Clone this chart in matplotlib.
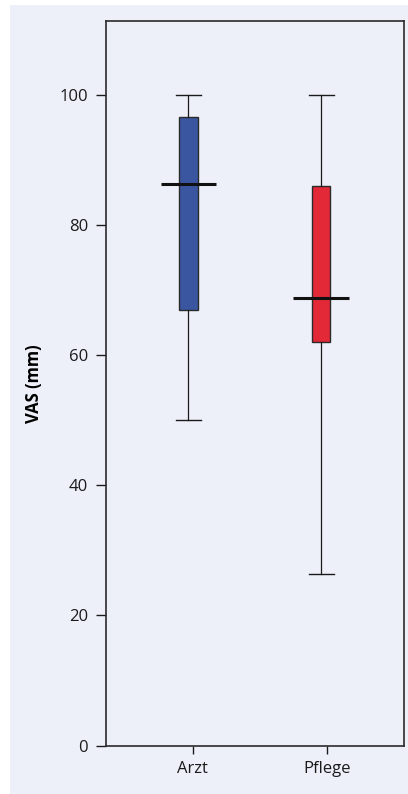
import numpy as np
import matplotlib
matplotlib.use("Agg")
import matplotlib.pyplot as plt
import matplotlib.patches as patches

plt.rcParams['font.family'] = ['Open Sans', 'DejaVu Sans']

# values (VAS in mm)
groups = ["Arzt", "Pflege"]
whisker_low = [50.0, 26.3]
q1 = [66.9, 62.0]
median = [86.2, 68.8]
q3 = [96.5, 86.0]
whisker_high = [100.0, 100.0]
colors = ["#3b56a1", "#e32838"]

bg = "#edf0f9"

fig = plt.figure(figsize=(4.08, 7.94), dpi=100)
fig.patch.set_facecolor("white")
fig.patches.append(patches.Rectangle((10 / 408, 0), 398 / 408, 789 / 794,
                                     transform=fig.transFigure, facecolor=bg,
                                     edgecolor="none", zorder=-10))

ax = fig.add_axes([0.2586, 0.0608, 0.7314, 0.9128])
ax.set_facecolor(bg)

stats = []
for i in range(len(groups)):
    stats.append(dict(label=groups[i], whislo=whisker_low[i], q1=q1[i],
                      med=median[i], q3=q3[i], whishi=whisker_high[i], fliers=[]))

bp = ax.bxp(stats, positions=[0, 0.985], widths=0.135, patch_artist=True,
            showfliers=False,
            boxprops=dict(edgecolor="#2b2b2b", linewidth=1.0),
            whiskerprops=dict(color="#1a1a1a", linewidth=0.9),
            capprops=dict(color="#1a1a1a", linewidth=1.0),
            medianprops=dict(color="#111111", linewidth=2.2))
for patch, c in zip(bp['boxes'], colors):
    patch.set_facecolor(c)
for cap in bp['caps']:
    x0, x1 = cap.get_xdata()
    m = (x0 + x1) / 2
    cap.set_xdata([m - 0.093, m + 0.093])
for med in bp['medians']:
    x0, x1 = med.get_xdata()
    m = (x0 + x1) / 2
    med.set_xdata([m - 0.207, m + 0.207])

ax.set_xlim(-0.616, 1.6)
ax.set_ylim(0, 111.3)
ax.set_yticks([0, 20, 40, 60, 80, 100])
ax.set_xticks([0.03, 1.03])
ax.set_xticklabels(groups)
ax.tick_params(axis='both', labelsize=12, colors="#1a1a1a", width=1.0, direction='out')
ax.tick_params(axis='y', length=7.5, pad=5)
ax.tick_params(axis='x', length=6, pad=5)
for s in ax.spines.values():
    s.set_color("#2b2b2b")
    s.set_linewidth(1.2)

ax.set_ylabel("VAS (mm)", fontsize=12, fontweight="bold", labelpad=12)

fig.savefig("out.png", dpi=100)
